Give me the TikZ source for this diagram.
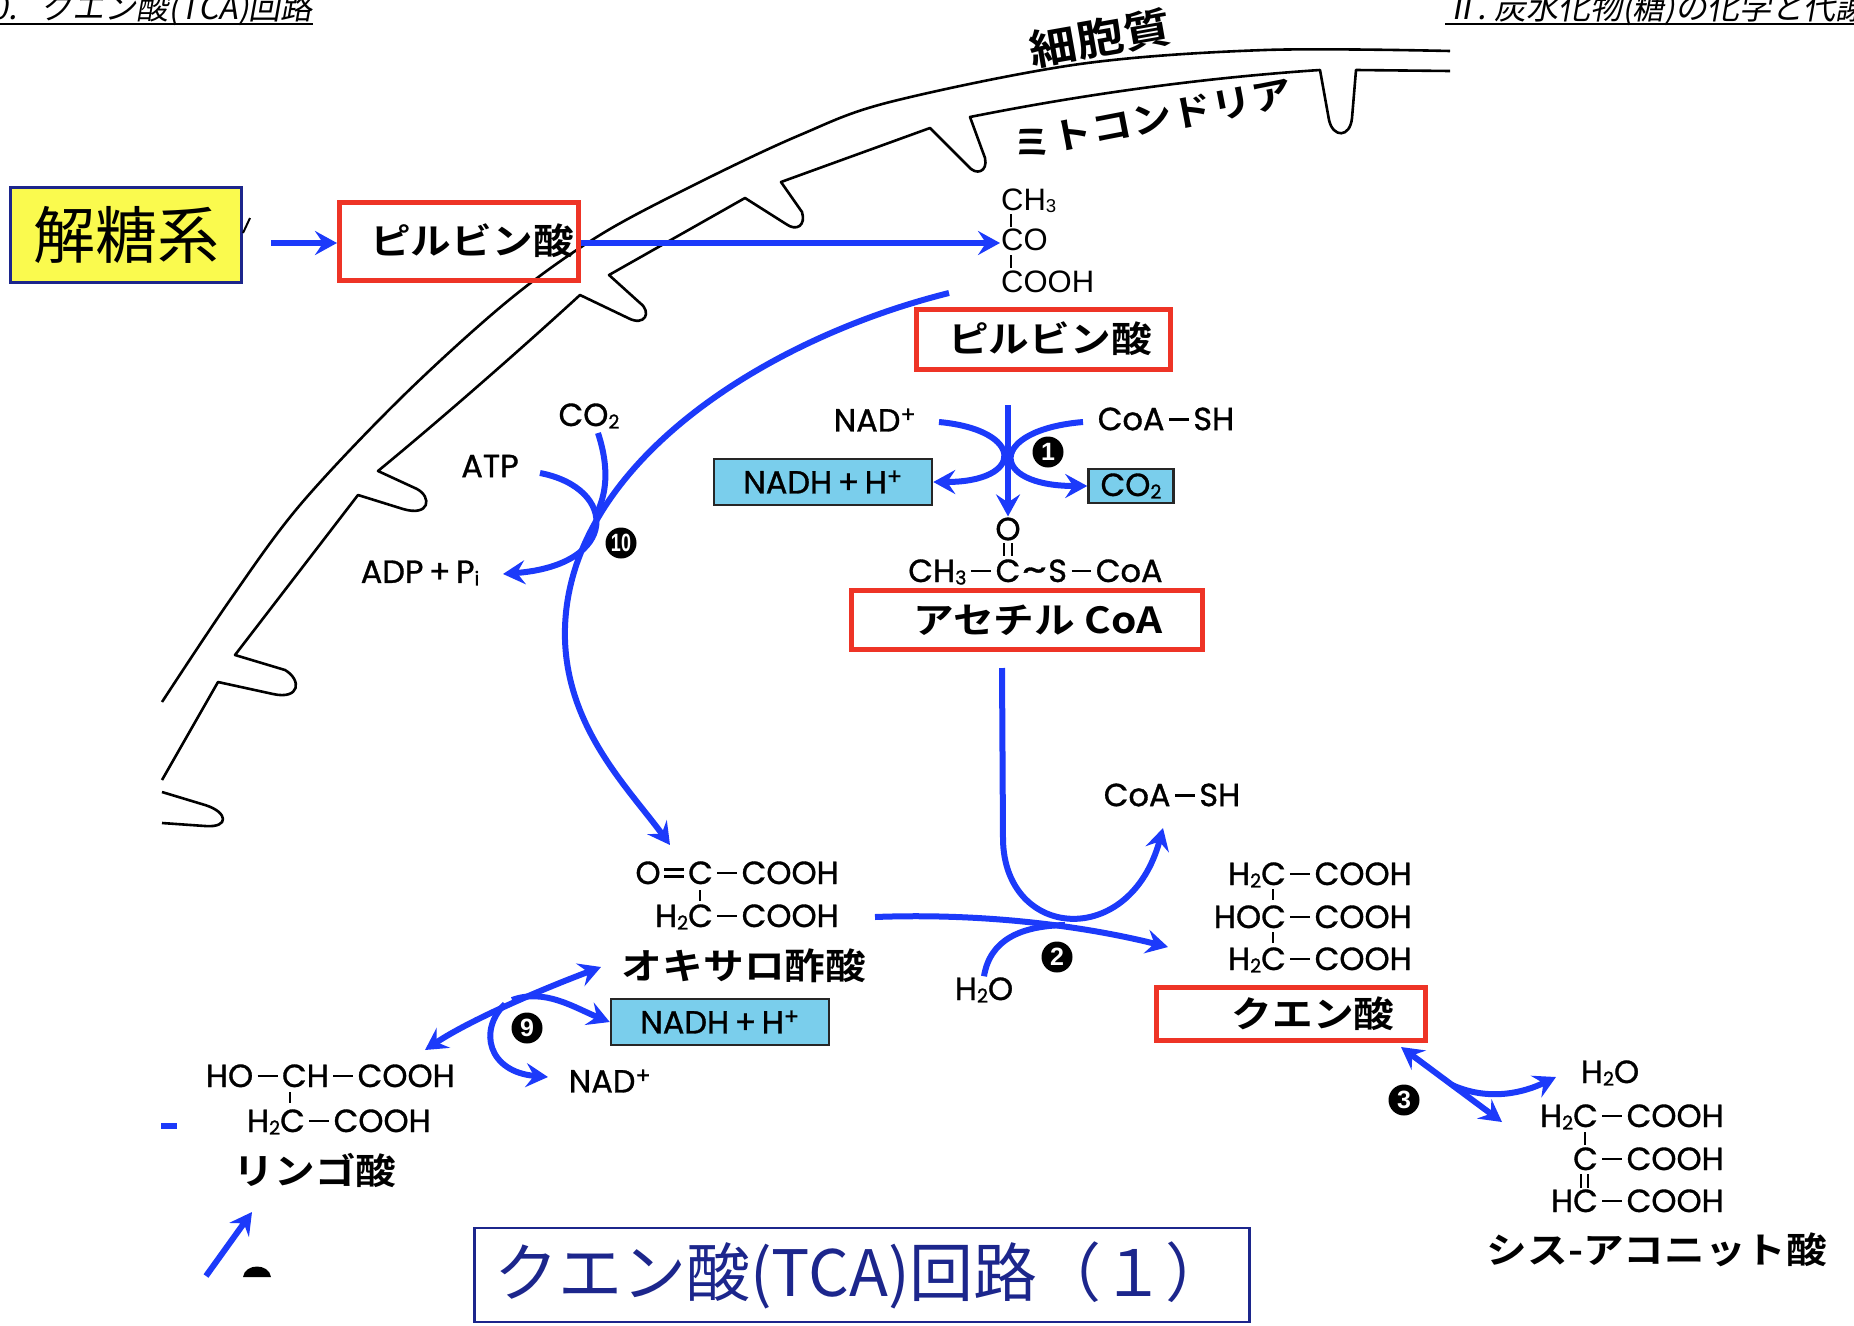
\documentclass[tikz,border=0pt]{standalone}
\usepackage{fontspec}
\usepackage{xcolor}
\usepackage{graphicx}
\usepackage{tikz}
\usetikzlibrary{arrows.meta}

\newfontfamily\jpreg{Noto Sans CJK JP}
\newfontfamily\jpbold{Noto Sans CJK JP Bold}[FakeStretch=1.13]
\newfontfamily\jpital{Noto Sans CJK JP}[FakeSlant=0.18]
\newfontfamily\chemsans{Poppins}[FakeBold=1]
\newfontfamily\pyrsans{Liberation Sans}

\definecolor{FlowBlue}{RGB}{28,58,250}
\definecolor{BoxRed}{RGB}{238,52,38}
\definecolor{BoxCyan}{RGB}{122,206,236}
\definecolor{NoteYellow}{RGB}{250,250,78}
\definecolor{TitleNavy}{RGB}{28,38,140}

\newcommand{\lblfont}{\jpbold\fontsize{36}{40}\selectfont}
\newcommand{\chemfont}{\chemsans\fontsize{32}{36}\selectfont}
\newcommand{\pyrfont}{\pyrsans\fontsize{31}{35}\selectfont}
\newcommand{\numfont}{\pyrsans\bfseries\fontsize{25}{25}\selectfont}
\newcommand{\headfont}{\jpital\fontsize{32}{34}\selectfont}
\newcommand{\lowidx}[1]{\raisebox{-.08em}{\scalebox{.6}{#1}}}
\newcommand{\bond}{\kern.14em\rule[.3em]{.62em}{.07em}\kern.14em}
\newcommand{\dbond}{\kern.12em\rlap{\rule[.2em]{.62em}{.07em}}\rule[.42em]{.62em}{.07em}\kern.12em}
\newcommand{\wave}{\kern.04em\raisebox{.02em}{\scalebox{1.5}[1.1]{\textasciitilde}}\kern.04em}

\tikzset{
  flow/.style={draw=FlowBlue, line width=6pt},
  flowto/.style={flow, -{Stealth[length=22pt,width=24pt,inset=8pt]}},
  flowboth/.style={flow, {Stealth[length=22pt,width=24pt,inset=8pt]}-{Stealth[length=22pt,width=24pt,inset=8pt]}},
  redbox/.style={draw=BoxRed, line width=5pt, inner sep=0pt, font=\lblfont},
  cyanbox/.style={draw=black!85, fill=BoxCyan, line width=2.5pt, inner sep=0pt, font=\chemfont},
  chem/.style={inner sep=1pt, font=\chemfont},
  pyr/.style={inner sep=1pt, font=\pyrfont},
  namejp/.style={inner sep=0pt, font=\lblfont},
  num/.style={circle, fill=black, text=white, minimum size=31pt, inner sep=0pt, font=\numfont},
  membrane/.style={draw=black, line width=2.6pt, line join=round},
  bondline/.style={draw=black, line width=2pt}
}

\begin{document}
\begin{tikzpicture}[x=1pt,y=-1pt]
\useasboundingbox (0,0) rectangle (1854,1325);
\clip (0,0) rectangle (1854,1325);

% page headers
\node[font=\headfont, anchor=base east, inner sep=0pt] (headl) at (313,19) {10.\hspace{24pt}クエン酸(TCA)回路};
\draw[line width=1.6pt] (0,24) -- (headl.east |- 0,24);
\node[font=\headfont, anchor=base west, inner sep=0pt] (headr) at (1445,19) {Ⅱ.\hspace{8pt}炭水化物(糖)の化学と代謝};
\draw[line width=1.6pt] (headr.west |- 0,24) -- (1854,24);

% cell and mitochondrial membranes
\draw[membrane] plot[smooth, tension=0.55] coordinates {(162,702) (230,600) (300,505) (402,397) (509,300) (600,235) (700,182) (800,135) (890,102) (1080,64) (1265,50) (1450,51)};
\draw[membrane] (162,780) -- (218,682)
  -- (273,694) .. controls (300,700) and (302,680) .. (285,670) -- (235,655)
  -- (358,495)
  -- (403,509) .. controls (430,517) and (432,497) .. (417,489) -- (378,471)
  .. controls (440,420) and (520,350) .. (580,295)
  -- (628,318) .. controls (645,327) and (652,312) .. (640,303) -- (609,275)
  -- (745,198)
  -- (786,224) .. controls (797,232) and (806,225) .. (802,212) -- (781,182)
  -- (930,128)
  -- (968,166) .. controls (976,176) and (988,172) .. (985,158) -- (970,117)
  .. controls (1080,95) and (1200,78) .. (1320,70)
  -- (1329,120) .. controls (1333,138) and (1350,138) .. (1352,118) -- (1356,70)
  -- (1450,71);
\draw[membrane] (162,792) -- (205,805) .. controls (228,812) and (230,828) .. (205,826) -- (162,823);
\node[font=\jpbold\fontsize{42}{44}\selectfont, rotate=10, inner sep=0pt] (cyto) at (1100,38) {細胞質};
\node[font=\jpbold\fontsize{36}{40}\selectfont, rotate=11, inner sep=0pt] (mito) at (1152,119) {ミトコンドリア};

% glycolysis and pyruvate
\node[draw=TitleNavy, fill=NoteYellow, line width=3pt, minimum width=231pt, minimum height=95pt, inner sep=0pt, font=\jpreg\fontsize{62}{64}\selectfont] (glyc) at (126,235) {解糖系};
\draw[line width=2pt] (243,233) -- (250,218);
\node[redbox, minimum width=239pt, minimum height=78pt] (pyr1) at (459,241) {\hspace*{26pt}ピルビン酸};
\coordinate (glycout) at (271,243);
\draw[flowto] (glycout) -- (pyr1.west |- glycout);

\node[pyr, anchor=base west] (ch3) at (1000,210) {CH\lowidx{3}};
\node[pyr, anchor=base west] (co) at (1000,250) {CO};
\node[pyr, anchor=base west] (cooh) at (1000,292) {COOH};
\draw[bondline] (1011,214) -- (1011,227);
\draw[bondline] (1011,255) -- (1011,268);
\draw[flowto] (pyr1.east |- 0,243) -- (co.west |- 0,243);
\node[redbox, minimum width=254pt, minimum height=60pt] (pyr2) at (1043,339) {\hspace*{14pt}ピルビン酸};

% reaction 1
\node[chem] (nadp1) at (875,420) {NAD\textsuperscript{+}};
\node[chem] (coash1) at (1166,419) {CoA\bond SH};
\node[cyanbox, minimum width=218pt, minimum height=46pt] (nadh1) at (823,482) {NADH\,+\,H\textsuperscript{+}};
\node[cyanbox, minimum width=85pt, minimum height=34pt] (co2b) at (1131,486) {CO\lowidx{2}};
\node[num] (n1) at (1048,452) {1};
\node[chem] (o1) at (1008,529) {O};
\coordinate (r1top) at (1008,405);
\coordinate (nadp1in) at (939,422);
\coordinate (coash1in) at (1083,422);
\draw[flowto] (r1top) -- (o1.north);
\draw[flowto] (nadp1in) .. controls (1025,430) and (1025,482) .. (nadh1.east);
\draw[flowto] (coash1in) .. controls (988,430) and (988,486) .. (co2b.west);
\draw[bondline] (1004,543) -- (1004,556);
\draw[bondline] (1012,543) -- (1012,556);
\node[chem, anchor=base, inner sep=0pt] (acc) at (1008,582) {C};
\node[chem, anchor=base east, inner sep=0pt] (acl) at (acc.base west) {CH\lowidx{3}\bond};
\node[chem, anchor=base west, inner sep=0pt] (acr) at (acc.base east) {\wave S\bond CoA};
\node[redbox, minimum width=351pt, minimum height=59pt] (acoa) at (1027,620) {\hspace*{22pt}アセチル CoA};

% reaction 10
\node[chem] (co2a) at (589,416) {CO\lowidx{2}};
\node[chem] (atp) at (490,466) {ATP};
\node[chem] (adp) at (420,573) {ADP\,+\,P\lowidx{i}};
\node[num] (n10) at (621,543) {\scalebox{.72}[1]{10}};
\coordinate (mainstart) at (949,293);
\coordinate (mainend) at (670,845);
\coordinate (co2aout) at (598,433);
\coordinate (atpout) at (540,473);
\coordinate (adpin) at (503,574);
\draw[flowto] (mainstart) .. controls (760,340) and (560,470) .. (565,640) .. controls (568,730) and (630,790) .. (mainend);
\draw[flow] (co2aout) .. controls (610,470) and (606,495) .. (596,515);
\draw[flowto] (atpout) .. controls (618,488) and (620,565) .. (adpin);

% reaction 2
\node[chem, anchor=base east] (oaa1) at (840,884) {O\dbond C\bond COOH};
\node[chem, anchor=base east] (oaa2) at (840,927) {H\lowidx{2}C\bond COOH};
\draw[bondline] (700,890) -- (700,901);
\node[namejp] (oaa) at (744,966) {オキサロ酢酸};
\node[chem] (coash2) at (1172,795) {CoA\bond SH};
\node[chem] (h2o1) at (984,990) {H\lowidx{2}O};
\node[num] (n2) at (1057,957) {2};
\coordinate (r2top) at (1002,668);
\coordinate (coash2in) at (1163,828);
\coordinate (oaaout) at (875,917);
\coordinate (citin) at (1168,947);
\draw[flowto] (r2top) -- (1003,840) .. controls (1005,940) and (1130,950) .. (coash2in);
\draw[flowto] (oaaout) .. controls (980,913) and (1080,925) .. (citin);
\draw[flow] (h2o1.north) .. controls (990,940) and (1020,926) .. (1065,925);

\node[chem, anchor=base east] (cit1) at (1413,885) {H\lowidx{2}C\bond COOH};
\node[chem, anchor=base east] (cit2) at (1413,928) {HOC\bond COOH};
\node[chem, anchor=base east] (cit3) at (1413,970) {H\lowidx{2}C\bond COOH};
\draw[bondline] (1273,889) -- (1273,900);
\draw[bondline] (1273,932) -- (1273,943);
\node[redbox, minimum width=269pt, minimum height=53pt] (cit) at (1291,1014) {\hspace*{44pt}クエン酸};

% reaction 3
\coordinate (r3a) at (1401,1047);
\coordinate (r3b) at (1502,1122);
\coordinate (h2o2in) at (1556,1077);
\draw[flowboth] (r3a) -- (r3b);
\draw[flowto] (1452,1085) .. controls (1490,1102) and (1525,1092) .. (h2o2in);
\node[num] (n3) at (1404,1100) {3};
\node[chem] (h2o2) at (1610,1073) {H\lowidx{2}O};
\node[chem, anchor=base east] (cis1) at (1725,1127) {H\lowidx{2}C\bond COOH};
\node[chem, anchor=base east] (cis2) at (1725,1170) {C\bond COOH};
\node[chem, anchor=base east] (cis3) at (1725,1212) {HC\bond COOH};
\draw[bondline] (1585,1132) -- (1585,1145);
\draw[bondline] (1581,1174) -- (1581,1188);
\draw[bondline] (1588,1174) -- (1588,1188);
\node[namejp] (cisl) at (1657,1250) {シス-アコニット酸};

% reaction 9
\node[cyanbox, minimum width=218pt, minimum height=46pt] (nadh2) at (720,1022) {NADH\,+\,H\textsuperscript{+}};
\node[chem] (nadp2) at (610,1081) {NAD\textsuperscript{+}};
\node[num] (n9) at (527,1028) {9};
\coordinate (r9a) at (425,1050);
\coordinate (r9b) at (601,967);
\coordinate (nadp2in) at (548,1077);
\draw[flowboth] (r9a) .. controls (470,1020) and (540,990) .. (r9b);
\draw[flowto] (512,1000) .. controls (545,988) and (575,1008) .. (nadh2.west);
\draw[flowto] (505,1004) .. controls (478,1030) and (488,1072) .. (nadp2in);

\node[chem, anchor=base east] (mal1) at (456,1087) {HO\bond CH\bond COOH};
\node[chem, anchor=base east] (mal2) at (432,1132) {H\lowidx{2}C\bond COOH};
\draw[bondline] (290,1092) -- (290,1103);
\node[namejp] (mall) at (315,1170) {リンゴ酸};
\draw[flow] (161,1126) -- (177,1126);
\draw[flowto] (206,1276) -- (252,1212);
\fill (243,1277) .. controls (245,1263) and (269,1263) .. (271,1277) -- cycle;

% title
\node[draw=TitleNavy, line width=2.5pt, minimum width=775pt, minimum height=94pt, inner sep=0pt, text=TitleNavy, font=\jpreg\fontsize{64}{66}\selectfont] (title) at (862,1275) {クエン酸(TCA)回路（１）};
\end{tikzpicture}
\end{document}
